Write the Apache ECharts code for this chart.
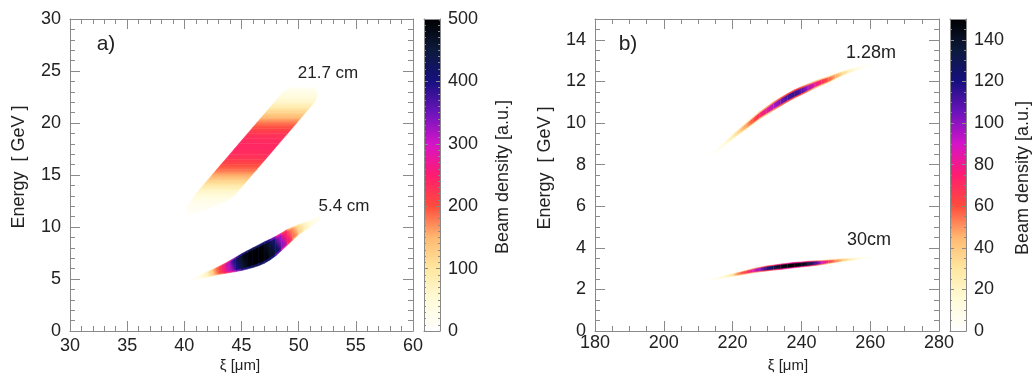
<!DOCTYPE html>
<html>
<head>
<meta charset="utf-8">
<script src="https://cdn.jsdelivr.net/npm/echarts@6/dist/echarts.min.js"></script>
<style>
html, body { margin: 0; padding: 0; background: #fff; }
#chart { width: 1035px; height: 373px; }
</style>
</head>
<body>
<div id="chart"></div>
<script>
// colour scale shared by both colour bars (white -> yellow -> red -> magenta -> navy -> black)
const palette = ['#ffffff', '#fffbd8', '#ffe7a0', '#ffb870', '#ff4c3c', '#ff1c70',
                 '#d414c8', '#6c14bc', '#161080', '#0c1a3c', '#000000'];

// panel a): beam at 21.7 cm, sampled along energy (xi range of the bunch and density at each energy)
const a217Energy  = [11.0, 11.5, 12.0, 12.5, 13.0, 13.5, 14.0, 14.5, 15.0, 15.5, 16.0, 16.5, 17.0,
                     17.5, 18.0, 18.5, 19.0, 19.5, 20.0, 20.5, 21.0, 21.5, 22.0, 22.5, 23.0, 23.4];
const a217XiFrom  = [39.9, 40.1, 40.3, 40.6, 40.86, 41.25, 41.64, 42.03, 42.42, 42.81, 43.2, 43.59, 43.98,
                     44.37, 44.76, 45.15, 45.54, 45.93, 46.32, 46.71, 47.1, 47.49, 47.88, 48.27, 48.66, 49.2];
const a217XiTo    = [40.4, 41.5, 42.6, 43.6, 44.36, 44.75, 45.14, 45.53, 45.92, 46.31, 46.7, 47.09, 47.48,
                     47.87, 48.26, 48.65, 49.04, 49.43, 49.82, 50.21, 50.6, 50.99, 51.38, 51.6, 51.6, 51.4];
const a217Density = [3, 12, 20, 30, 45, 65, 95, 125, 155, 185, 205, 222, 232,
                     238, 237, 232, 222, 205, 180, 150, 120, 90, 62, 45, 30, 18];

// panel a): beam at 5.4 cm, sampled along xi (centre energy, half height, density)
const a54Xi      = [40.5, 41.0, 41.5, 42.0, 42.5, 43.0, 43.5, 44.0, 44.5, 45.0, 45.5, 46.0,
                    46.5, 47.0, 47.5, 48.0, 48.5, 49.0, 49.5, 50.0, 50.5, 51.0, 51.5, 52.0];
const a54Energy  = [4.8, 5.07, 5.25, 5.44, 5.62, 5.82, 6.0, 6.2, 6.4, 6.62, 6.83, 7.05,
                    7.28, 7.54, 7.83, 8.17, 8.58, 9.0, 9.38, 9.75, 10.03, 10.3, 10.65, 11.0];
const a54Half    = [0.07, 0.14, 0.2, 0.26, 0.32, 0.38, 0.47, 0.58, 0.69, 0.8, 0.88, 0.95,
                    1.0, 1.03, 1.0, 0.94, 0.85, 0.75, 0.62, 0.5, 0.4, 0.32, 0.23, 0.13];
const a54Density = [5, 15, 35, 70, 130, 200, 260, 320, 400, 460, 490, 500,
                    500, 495, 470, 420, 330, 250, 180, 120, 75, 45, 25, 10];

// panel b): beam at 1.28 m, sampled every 2 um along xi
const b128Xi      = [214, 216, 218, 220, 222, 224, 226, 228, 230, 232, 234, 236,
                     238, 240, 242, 244, 246, 248, 250, 252, 254, 256, 258, 260];
const b128Energy  = [8.45, 8.75, 9.05, 9.33, 9.6, 9.86, 10.12, 10.38, 10.6, 10.82, 11.02, 11.22,
                     11.4, 11.55, 11.7, 11.85, 11.98, 12.1, 12.25, 12.38, 12.5, 12.6, 12.7, 12.78];
const b128Half    = [0.04, 0.07, 0.1, 0.12, 0.14, 0.16, 0.17, 0.18, 0.19, 0.2, 0.2, 0.2,
                     0.2, 0.19, 0.18, 0.17, 0.16, 0.15, 0.13, 0.11, 0.09, 0.07, 0.05, 0.03];
const b128Density = [3, 8, 15, 25, 36, 48, 60, 72, 84, 95, 104, 112,
                     116, 110, 96, 82, 70, 58, 46, 34, 22, 12, 6, 2];

// panel b): beam at 30 cm
const b30Xi      = [212, 214, 216, 218, 220, 222, 224, 226, 228, 230, 232, 234, 236,
                    238, 240, 242, 244, 246, 248, 250, 252, 254, 256, 258, 260];
const b30Energy  = [2.42, 2.48, 2.55, 2.62, 2.69, 2.76, 2.83, 2.9, 2.96, 3.01, 3.05, 3.09, 3.13,
                    3.17, 3.2, 3.23, 3.26, 3.29, 3.33, 3.37, 3.41, 3.44, 3.47, 3.5, 3.52];
const b30Half    = [0.03, 0.04, 0.05, 0.06, 0.07, 0.08, 0.09, 0.1, 0.11, 0.12, 0.12, 0.13, 0.13,
                    0.13, 0.12, 0.12, 0.11, 0.1, 0.09, 0.08, 0.07, 0.06, 0.05, 0.04, 0.03];
const b30Density = [2, 5, 10, 18, 30, 55, 68, 85, 100, 118, 132, 142, 148,
                    150, 146, 135, 115, 88, 68, 52, 40, 26, 15, 7, 3];

const maxA = 500, maxB = 150;

const frame = '#8a8a8a';
const ink = '#222';
const font = 'Liberation Sans, Arial, Helvetica, sans-serif';

function colorOf(d, max) {
    return echarts.color.lerp(Math.max(0, Math.min(1, d / max)), palette);
}

function gradient(p, q, d0, d1, max) {
    return new echarts.graphic.LinearGradient(p[0], p[1], q[0], q[1], [
        { offset: 0, color: colorOf(d0, max) },
        { offset: 1, color: colorOf(d1, max) }
    ], true);
}

// band sampled along energy: quad between two consecutive energy samples, vertical colour change
function energyBand(es, from, to, ds, max) {
    return function (params, api) {
        var i = params.dataIndex;
        if (i >= es.length - 1) return null;
        var j = i + 1;
        var a = api.coord([from[i], es[i]]);
        var b = api.coord([to[i], es[i]]);
        var c = api.coord([to[j], es[j]]);
        var d = api.coord([from[j], es[j]]);
        var fill = gradient([a[0], a[1]], [a[0], d[1]], ds[i], ds[j], max);
        return {
            type: 'polygon',
            shape: { points: [a, b, c, d] },
            style: { fill: fill, stroke: fill, lineWidth: 0.5 }
        };
    };
}

// band sampled along xi: soft outer layer plus dense core
function xiBand(xs, es, hs, ds, max, haloK, coreW) {
    function quad(api, i, j, w, k) {
        var t0 = api.coord([xs[i], es[i] + hs[i] * w]);
        var t1 = api.coord([xs[j], es[j] + hs[j] * w]);
        var b1 = api.coord([xs[j], es[j] - hs[j] * w]);
        var b0 = api.coord([xs[i], es[i] - hs[i] * w]);
        var fill = gradient(api.coord([xs[i], es[i]]), api.coord([xs[j], es[j]]), ds[i] * k, ds[j] * k, max);
        return {
            type: 'polygon',
            shape: { points: [t0, t1, b1, b0] },
            style: { fill: fill, stroke: fill, lineWidth: 0.5 }
        };
    }
    return function (params, api) {
        var i = params.dataIndex;
        if (i >= xs.length - 1) return null;
        return { type: 'group', children: [quad(api, i, i + 1, 1, haloK), quad(api, i, i + 1, coreW, 1)] };
    };
}

function side(gridIndex, pos, min, max, interval, minorSplit, labels) {
    return {
        type: 'value', gridIndex: gridIndex, position: pos, min: min, max: max, interval: interval,
        axisLine: { show: true, onZero: false, lineStyle: { color: frame, width: 1 } },
        axisTick: { show: true, inside: true, length: 10, lineStyle: { color: frame } },
        minorTick: { show: true, splitNumber: minorSplit, length: 5, lineStyle: { color: frame } },
        splitLine: { show: false },
        axisLabel: { show: labels, color: ink, fontSize: 18, fontFamily: font, margin: 9, showMaxLabel: true }
    };
}

function barSide(gridIndex, pos, max, interval, minorSplit, labels, lastLabel) {
    var ax = side(gridIndex, pos, 0, max, interval, minorSplit, labels);
    ax.axisTick.length = 4;
    ax.minorTick.length = 2;
    ax.axisLabel.margin = 8;
    ax.axisLabel.showMaxLabel = lastLabel;
    ax.z = 10;
    return ax;
}

function boxEdge(gridIndex, pos) {
    return {
        type: 'value', gridIndex: gridIndex, position: pos, min: 0, max: 1,
        axisLine: { show: true, onZero: false, lineStyle: { color: frame, width: 1 } },
        axisTick: { show: false }, axisLabel: { show: false }, splitLine: { show: false }, z: 10
    };
}

function label(text, x, y, size, rotate) {
    return {
        type: 'text', x: x, y: y, rotation: rotate ? Math.PI / 2 : 0,
        style: { text: text, fill: ink, font: size + 'px ' + font, align: 'center', verticalAlign: 'middle' }
    };
}

var xa = side(0, 'bottom', 30, 60, 5, 5, true);
xa.axisLabel.margin = 6;
var xb = side(2, 'bottom', 180, 280, 20, 4, true);
xb.axisLabel.margin = 3;
var yb = side(2, 'left', 0, 15, 2, 4, true);
yb.axisLabel.showMaxLabel = false;

var option = {
    backgroundColor: '#fff',
    animation: false,
    grid: [
        { left: 70, top: 19, width: 343, height: 312 },
        { left: 424, top: 19, width: 16, height: 312 },
        { left: 595, top: 19, width: 344, height: 312 },
        { left: 950, top: 19, width: 16, height: 312 }
    ],
    xAxis: [
        xa,
        side(0, 'top', 30, 60, 5, 5, false),
        boxEdge(1, 'bottom'),
        boxEdge(1, 'top'),
        xb,
        side(2, 'top', 180, 280, 20, 4, false),
        boxEdge(3, 'bottom'),
        boxEdge(3, 'top')
    ],
    yAxis: [
        side(0, 'left', 0, 30, 5, 5, true),
        side(0, 'right', 0, 30, 5, 5, false),
        barSide(1, 'left', 500, 100, 10, false, true),
        barSide(1, 'right', 500, 100, 10, true, true),
        yb,
        side(2, 'right', 0, 15, 2, 4, false),
        barSide(3, 'left', 150, 20, 4, false, false),
        barSide(3, 'right', 150, 20, 4, true, false)
    ],
    visualMap: [
        {
            type: 'continuous', min: 0, max: maxA, dimension: 3, seriesIndex: [0, 1],
            inRange: { color: palette }, calculable: false, hoverLink: false,
            left: 424, top: 19, itemWidth: 16, itemHeight: 312, padding: 0, z: 1
        },
        {
            type: 'continuous', min: 0, max: maxB, dimension: 3, seriesIndex: [2, 3],
            inRange: { color: palette }, calculable: false, hoverLink: false,
            left: 950, top: 19, itemWidth: 16, itemHeight: 312, padding: 0, z: 1
        }
    ],
    series: [
        { name: '21.7 cm', type: 'custom', xAxisIndex: 0, yAxisIndex: 0, clip: true,
          renderItem: energyBand(a217Energy, a217XiFrom, a217XiTo, a217Density, maxA),
          data: a217Energy.map((e, i) => [a217XiFrom[i], e, a217XiTo[i], a217Density[i]]) },
        { name: '5.4 cm', type: 'custom', xAxisIndex: 0, yAxisIndex: 0, clip: true,
          renderItem: xiBand(a54Xi, a54Energy, a54Half, a54Density, maxA, 0.85, 0.75),
          data: a54Xi.map((x, i) => [x, a54Energy[i], a54Half[i], a54Density[i]]) },
        { name: '1.28m', type: 'custom', xAxisIndex: 4, yAxisIndex: 4, clip: true,
          renderItem: xiBand(b128Xi, b128Energy, b128Half, b128Density, maxB, 0.55, 0.6),
          data: b128Xi.map((x, i) => [x, b128Energy[i], b128Half[i], b128Density[i]]) },
        { name: '30cm', type: 'custom', xAxisIndex: 4, yAxisIndex: 4, clip: true,
          renderItem: xiBand(b30Xi, b30Energy, b30Half, b30Density, maxB, 0.55, 0.6),
          data: b30Xi.map((x, i) => [x, b30Energy[i], b30Half[i], b30Density[i]]) }
    ],
    graphic: [
        label('Energy  [ GeV ]', 19, 167, 18, true),
        label('Energy  [ GeV ]', 545, 168, 18, true),
        label('Beam density [a.u.]', 503, 177, 18, true),
        label('Beam density [a.u.]', 1023, 178, 18, true),
        label('ξ [μm]', 240, 366, 15, false),
        label('ξ [μm]', 788, 366, 15, false),
        label('a)', 106, 44, 21, false),
        label('b)', 628, 44, 21, false),
        label('21.7 cm', 328, 73, 17, false),
        label('5.4 cm', 344, 206, 17, false),
        label('1.28m', 871, 53, 18, false),
        label('30cm', 869, 240, 18, false)
    ]
};

var chart = echarts.init(document.getElementById('chart'), null, { renderer: 'canvas' });
chart.setOption(option);
</script>
</body>
</html>
